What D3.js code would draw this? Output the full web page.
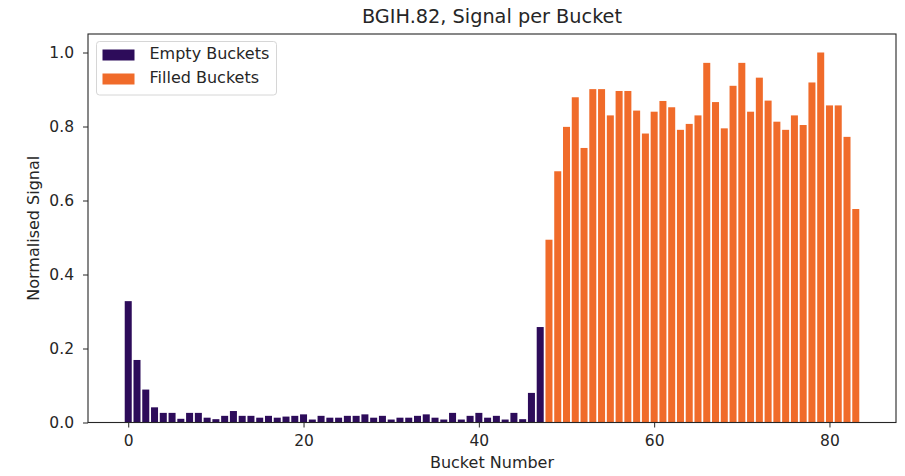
<!DOCTYPE html>
<html>
<head>
<meta charset="utf-8">
<script src="https://cdn.jsdelivr.net/npm/d3@7"></script>
<style>
  body { margin: 0; background: #fff; }
  text { font-family: "DejaVu Sans", sans-serif; fill: #262626; }
</style>
</head>
<body>
<div id="chart"></div>
<script>
// data
var emptyBuckets = d3.range(0, 48);
var emptySignal = [0.328, 0.169, 0.089, 0.041, 0.026, 0.026, 0.010, 0.026, 0.026, 0.013,
                   0.009, 0.018, 0.031, 0.018, 0.018, 0.013, 0.018, 0.013, 0.016, 0.018,
                   0.022, 0.008, 0.018, 0.013, 0.013, 0.018, 0.018, 0.022, 0.013, 0.018,
                   0.008, 0.013, 0.013, 0.018, 0.022, 0.013, 0.008, 0.026, 0.008, 0.018,
                   0.026, 0.013, 0.018, 0.008, 0.026, 0.009, 0.080, 0.258];
var filledBuckets = d3.range(48, 84);
var filledSignal = [0.494, 0.679, 0.799, 0.879, 0.742, 0.901, 0.901, 0.830, 0.896, 0.896,
                    0.843, 0.781, 0.840, 0.869, 0.852, 0.791, 0.807, 0.830, 0.972, 0.866,
                    0.795, 0.910, 0.972, 0.840, 0.932, 0.870, 0.813, 0.791, 0.830, 0.804,
                    0.919, 1.000, 0.857, 0.857, 0.772, 0.577];
var xTicks = [0, 20, 40, 60, 80];
var yTicks = [0, 0.2, 0.4, 0.6, 0.8, 1.0];
var seriesNames = ["Empty Buckets", "Filled Buckets"];

// style
var width = 905, height = 476;
var margin = {left: 88, right: 9, top: 34, bottom: 53.5};
var emptyColor = "#2d0c5a";
var filledColor = "#f06b2a";
var barWidth = 0.8;
var tickFont = "15.5px";
var labelFont = "16px";

var svg = d3.select("#chart").append("svg")
            .attr("width", width)
            .attr("height", height);

var x = d3.scaleLinear()
          .domain([-0.4 - 83.8*0.05, 83.4 + 83.8*0.05])
          .range([margin.left, width - margin.right]);
var y = d3.scaleLinear()
          .domain([0, 1.05])
          .range([height - margin.bottom, margin.top]);

function drawBars(buckets, values, color) {
  svg.append("g")
     .selectAll("rect")
     .data(buckets.map(function(b, i) { return {b: b, v: values[i]}; }))
     .enter().append("rect")
     .attr("x", function(d) { return x(d.b - barWidth/2); })
     .attr("width", function(d) { return x(d.b + barWidth/2) - x(d.b - barWidth/2); })
     .attr("y", function(d) { return y(d.v); })
     .attr("height", function(d) { return y(0) - y(d.v); })
     .attr("fill", color);
}
drawBars(emptyBuckets, emptySignal, emptyColor);
drawBars(filledBuckets, filledSignal, filledColor);

var xAxis = svg.append("g")
   .attr("transform", "translate(0," + y(0) + ")")
   .call(d3.axisBottom(x).tickValues(xTicks).tickFormat(d3.format("d")).tickSize(5).tickPadding(7.5));
var yAxis = svg.append("g")
   .attr("transform", "translate(" + margin.left + ",0)")
   .call(d3.axisLeft(y).tickValues(yTicks).tickFormat(d3.format(".1f")).tickSize(5).tickPadding(9));
[xAxis, yAxis].forEach(function(a) {
  a.select(".domain").remove();
  a.selectAll("line").attr("stroke", "#262626").attr("stroke-width", 1);
  a.selectAll("text").attr("font-size", tickFont).attr("font-family", "DejaVu Sans").attr("fill", "#262626");
});

// frame
svg.append("rect")
   .attr("x", margin.left).attr("y", margin.top)
   .attr("width", width - margin.left - margin.right)
   .attr("height", height - margin.top - margin.bottom)
   .attr("fill", "none").attr("stroke", "#262626").attr("stroke-width", 1.1);

// titles
svg.append("text")
   .attr("x", (margin.left + width - margin.right) / 2).attr("y", 22.7)
   .attr("text-anchor", "middle").style("font-size", "19.3px")
   .text("BGIH.82, Signal per Bucket");
svg.append("text")
   .attr("x", (margin.left + width - margin.right) / 2).attr("y", 468)
   .attr("text-anchor", "middle").style("font-size", labelFont)
   .text("Bucket Number");
svg.append("text")
   .attr("transform", "translate(39," + (margin.top + height - margin.bottom) / 2 + ") rotate(-90)")
   .attr("text-anchor", "middle").style("font-size", labelFont)
   .text("Normalised Signal");

// legend
var legend = svg.append("g").attr("transform", "translate(96.5,41.5)");
legend.append("rect")
      .attr("width", 180).attr("height", 53.5).attr("rx", 3)
      .attr("fill", "#fff").attr("fill-opacity", 0.8)
      .attr("stroke", "#d6d6d6").attr("stroke-width", 1);
[emptyColor, filledColor].forEach(function(c, i) {
  legend.append("rect")
        .attr("x", 6).attr("y", 8 + i*24)
        .attr("width", 32).attr("height", 11)
        .attr("fill", c);
  legend.append("text")
        .attr("x", 53).attr("y", 17.8 + i*24)
        .style("font-size", labelFont)
        .text(seriesNames[i]);
});
</script>
</body>
</html>
